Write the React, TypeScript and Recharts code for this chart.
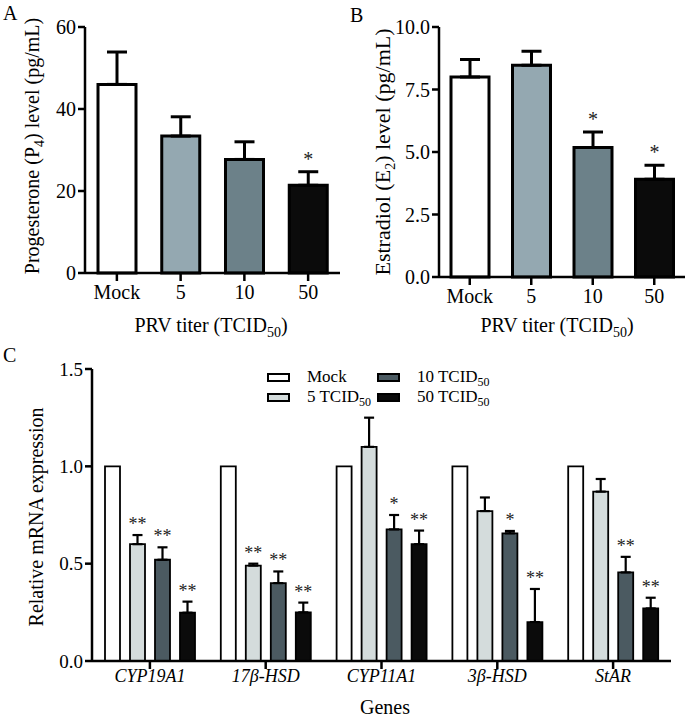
import React, { type ReactElement } from "react";
import {
  Bar,
  BarChart,
  Cell,
  ErrorBar,
  LabelList,
  Legend,
  XAxis,
  YAxis,
} from "recharts";

const FONT = "'Liberation Serif', 'Times New Roman', serif";

// panels A and B
const titers = ["Mock", "5", "10", "50"];
const titerColors = ["#ffffff", "#94a8b1", "#6c8189", "#0b0b0b"];
const p4Mean = [46, 33.4, 27.7, 21.4];
const p4Err = [7.9, 4.7, 4.3, 3.3];
const p4Sig = ["", "", "", "*"];
const e2Mean = [8.0, 8.47, 5.18, 3.91];
const e2Err = [0.7, 0.56, 0.62, 0.56];
const e2Sig = ["", "", "*", "*"];

// panel C
const genes = ["CYP19A1", "17β-HSD", "CYP11A1", "3β-HSD", "StAR"];
const mockExpr = [1, 1, 1, 1, 1];
const t5Expr = [0.6, 0.49, 1.1, 0.77, 0.87];
const t5Err = [0.047, 0.01, 0.15, 0.07, 0.065];
const t5Sig = ["**", "**", "", "", ""];
const t10Expr = [0.52, 0.4, 0.676, 0.656, 0.455];
const t10Err = [0.064, 0.06, 0.074, 0.012, 0.08];
const t10Sig = ["**", "**", "*", "*", "**"];
const t50Expr = [0.248, 0.25, 0.6, 0.2, 0.27];
const t50Err = [0.057, 0.05, 0.07, 0.17, 0.055];
const t50Sig = ["**", "**", "**", "**", "**"];
const seriesKeys = ["mock", "t5", "t10", "t50"];
const seriesNames = ["Mock", "5", "10", "50"];
const seriesColors = ["#ffffff", "#d4dcdc", "#4b5a61", "#0b0b0b"];

const sigLabel =
  (means: number[], errs: number[], fontSize: number, lift: number) =>
  (props: any) => {
    const { x, y, width, height, index, value } = props;
    if (!value) return null;
    const perUnit = Number(height) / means[index];
    const top = Number(y) - errs[index] * perUnit;
    return (
      <text
        x={Number(x) + Number(width) / 2}
        y={top - lift}
        textAnchor="middle"
        fontSize={fontSize}
        fontFamily={FONT}
        fill="#222"
      >
        {value}
      </text>
    );
  };

type PanelProps = {
  left: number;
  width: number;
  yWidth: number;
  plotTop: number;
  plotBottom: number;
  means: number[];
  errs: number[];
  sig: string[];
  domain: [number, number];
  ticks: number[];
  fmt: (v: number) => string;
};

const CHART_H = 345;

const TiterPanel = (p: PanelProps): ReactElement => {
  const data = titers.map((t, i) => ({
    titer: t,
    mean: p.means[i],
    err: [0, p.errs[i]],
    sig: p.sig[i],
  }));
  const axisStyle = { stroke: "#000", strokeWidth: 2.5 };
  return (
    <div style={{ position: "absolute", left: p.left, top: 0 }}>
      <BarChart
        width={p.width}
        height={CHART_H}
        data={data}
        margin={{
          top: p.plotTop,
          right: 0,
          left: 0,
          bottom: CHART_H - 30 - p.plotBottom,
        }}
      >
        <XAxis
          dataKey="titer"
          height={30}
          axisLine={axisStyle}
          tickLine={axisStyle}
          tickSize={8}
          tickMargin={4}
          tick={{ fill: "#000", fontSize: 20, fontFamily: FONT }}
        />
        <YAxis
          width={p.yWidth}
          domain={p.domain}
          ticks={p.ticks}
          tickFormatter={p.fmt}
          axisLine={axisStyle}
          tickLine={axisStyle}
          tickSize={7}
          tickMargin={2}
          tick={{ fill: "#000", fontSize: 20, fontFamily: FONT }}
        />
        <Bar
          dataKey="mean"
          barSize={38}
          stroke="#000"
          strokeWidth={3}
          isAnimationActive={false}
        >
          {data.map((d, i) => (
            <Cell key={d.titer} fill={titerColors[i]} />
          ))}
          <ErrorBar
            dataKey="err"
            width={10}
            stroke="#000"
            strokeWidth={3}
            isAnimationActive={false}
          />
          <LabelList
            dataKey="sig"
            content={sigLabel(p.means, p.errs, 20, 6)}
          />
        </Bar>
      </BarChart>
    </div>
  );
};

const renderLegend = (props: any) => {
  const payload = props.payload || [];
  return (
    <div
      style={{
        position: "relative",
        width: 260,
        height: 40,
        fontFamily: FONT,
        fontSize: 17,
        color: "#000",
      }}
    >
      {payload.map((entry: any) => {
        const i = seriesKeys.indexOf(entry.dataKey);
        const col = Math.floor(i / 2);
        const row = i % 2;
        return (
          <div
            key={entry.dataKey}
            style={{
              position: "absolute",
              left: col * 110,
              top: row * 20,
              height: 20,
              display: "flex",
              alignItems: "center",
              whiteSpace: "nowrap",
            }}
          >
            <span
              style={{
                display: "inline-block",
                width: 23,
                height: 9,
                boxSizing: "border-box",
                border: "2px solid #000",
                background: seriesColors[i],
                marginRight: 17,
              }}
            />
            {i === 0 ? (
              <span>Mock</span>
            ) : (
              <span>
                {seriesNames[i]} TCID
                <span style={{ fontSize: 12, position: "relative", top: 4 }}>
                  50
                </span>
              </span>
            )}
          </div>
        );
      })}
    </div>
  );
};

const GenePanel = (): ReactElement => {
  const data = genes.map((g, i) => ({
    gene: g,
    mock: mockExpr[i],
    t5: t5Expr[i],
    t5Err: [0, t5Err[i]],
    t5Sig: t5Sig[i],
    t10: t10Expr[i],
    t10Err: [0, t10Err[i]],
    t10Sig: t10Sig[i],
    t50: t50Expr[i],
    t50Err: [0, t50Err[i]],
    t50Sig: t50Sig[i],
  }));
  const axisStyle = { stroke: "#000", strokeWidth: 2.5 };
  const chartH = 381;
  const plotTop = 29;
  const plotBottom = 321;
  return (
    <div style={{ position: "absolute", left: 0, top: 340 }}>
      <BarChart
        width={685}
        height={chartH}
        data={data}
        barSize={15}
        barGap={10}
        margin={{ top: plotTop, right: 14, left: 0, bottom: chartH - 30 - plotBottom }}
      >
        <XAxis
          dataKey="gene"
          height={30}
          axisLine={axisStyle}
          tickLine={axisStyle}
          tickSize={8}
          tickMargin={0}
          tick={{ fill: "#000", fontSize: 18, fontFamily: FONT, fontStyle: "italic" }}
        />
        <YAxis
          width={92}
          domain={[0, 1.5]}
          ticks={[0, 0.5, 1, 1.5]}
          tickFormatter={(v: number) => v.toFixed(1)}
          axisLine={axisStyle}
          tickLine={axisStyle}
          tickSize={7}
          tickMargin={2}
          tick={{ fill: "#000", fontSize: 19, fontFamily: FONT }}
        />
        <Legend
          layout="horizontal"
          verticalAlign="middle"
          align="center"
          content={renderLegend}
          wrapperStyle={{ left: 267, top: 27, width: 260 }}
        />
        <Bar
          dataKey="mock"
          name="Mock"
          fill={seriesColors[0]}
          stroke="#000"
          strokeWidth={1.8}
          isAnimationActive={false}
        />
        <Bar
          dataKey="t5"
          name="5 TCID50"
          fill={seriesColors[1]}
          stroke="#000"
          strokeWidth={1.8}
          isAnimationActive={false}
        >
          <ErrorBar dataKey="t5Err" width={5} stroke="#000" strokeWidth={2.2} isAnimationActive={false} />
          <LabelList dataKey="t5Sig" content={sigLabel(t5Expr, t5Err, 18, 5)} />
        </Bar>
        <Bar
          dataKey="t10"
          name="10 TCID50"
          fill={seriesColors[2]}
          stroke="#000"
          strokeWidth={1.8}
          isAnimationActive={false}
        >
          <ErrorBar dataKey="t10Err" width={5} stroke="#000" strokeWidth={2.2} isAnimationActive={false} />
          <LabelList dataKey="t10Sig" content={sigLabel(t10Expr, t10Err, 18, 5)} />
        </Bar>
        <Bar
          dataKey="t50"
          name="50 TCID50"
          fill={seriesColors[3]}
          stroke="#000"
          strokeWidth={1.8}
          isAnimationActive={false}
        >
          <ErrorBar dataKey="t50Err" width={5} stroke="#000" strokeWidth={2.2} isAnimationActive={false} />
          <LabelList dataKey="t50Sig" content={sigLabel(t50Expr, t50Err, 18, 5)} />
        </Bar>
      </BarChart>
    </div>
  );
};

const Sub = ({ children }: { children: string }) => (
  <tspan dy={5} fontSize={14}>
    {children}
  </tspan>
);

export default function App(): ReactElement {
  return (
    <div
      style={{
        position: "absolute",
        left: 0,
        top: 0,
        width: 685,
        height: 721,
        background: "#fff",
        overflow: "hidden",
      }}
    >
      <TiterPanel
        left={0}
        width={340}
        yWidth={85}
        plotTop={27}
        plotBottom={273}
        means={p4Mean}
        errs={p4Err}
        sig={p4Sig}
        domain={[0, 60]}
        ticks={[0, 20, 40, 60]}
        fmt={(v) => String(v)}
      />
      <TiterPanel
        left={340}
        width={345}
        yWidth={99}
        plotTop={27}
        plotBottom={277}
        means={e2Mean}
        errs={e2Err}
        sig={e2Sig}
        domain={[0, 10]}
        ticks={[0, 2.5, 5, 7.5, 10]}
        fmt={(v) => v.toFixed(1)}
      />
      <GenePanel />
      <svg
        width={685}
        height={721}
        style={{ position: "absolute", left: 0, top: 0, pointerEvents: "none" }}
        fontFamily={FONT}
        fill="#000"
      >
        <text x={3} y={20} fontSize={20}>A</text>
        <text x={350} y={22} fontSize={20}>B</text>
        <text x={3} y={362} fontSize={20}>C</text>

        <text x={39} y={146} fontSize={20} textAnchor="middle" transform="rotate(-90 39 146)">
          Progesterone (P<Sub>4</Sub><tspan dy={-5}>) level (pg/mL)</tspan>
        </text>
        <text x={390} y={152} fontSize={22} textAnchor="middle" transform="rotate(-90 390 152)">
          Estradiol (E<Sub>2</Sub><tspan dy={-5}>) level (pg/mL)</tspan>
        </text>
        <text x={43} y={517} fontSize={20} textAnchor="middle" transform="rotate(-90 43 517)">
          Relative mRNA expression
        </text>

        <text x={211} y={332} fontSize={20} textAnchor="middle">
          PRV titer (TCID<Sub>50</Sub><tspan dy={-5}>)</tspan>
        </text>
        <text x={557} y={332} fontSize={20} textAnchor="middle">
          PRV titer (TCID<Sub>50</Sub><tspan dy={-5}>)</tspan>
        </text>
        <text x={385} y={714} fontSize={20} textAnchor="middle">
          Genes
        </text>
      </svg>
    </div>
  );
}
